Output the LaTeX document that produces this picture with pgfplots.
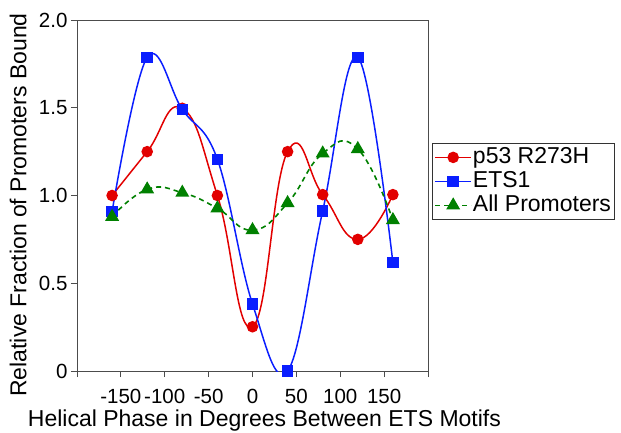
\documentclass[border=0pt]{standalone}
\usepackage{fontspec}
\setmainfont{Liberation Sans}
\usepackage{pgfplots}
\pgfplotsset{compat=1.18}
\definecolor{pred}{RGB}{226,0,0}
\definecolor{pblue}{RGB}{10,30,255}
\definecolor{pgreen}{RGB}{0,128,0}

\begin{document}
\begin{tikzpicture}
\begin{axis}[
  scale only axis, width=351pt, height=351pt,
  xmin=-200, xmax=200, ymin=0, ymax=2,
  xtick={-200,-150,...,200},
  xticklabels={{},-150,-100,-50,0,50,100,150,{}},
  ytick={0,0.5,1,1.5,2},
  yticklabels={0,0.5,1.0,1.5,2.0},
  tick align=outside, major tick length=6pt,
  xtick pos=bottom, ytick pos=left,
  axis line style={black!70, line width=0.8pt},
  tick style={black!70, line width=0.8pt},
  every tick label/.append style={font=\fontsize{20.5}{24}\selectfont},
  xticklabel style={yshift=-9pt},
  label style={font=\fontsize{23}{27}\selectfont},
  xlabel={Helical Phase in Degrees Between ETS Motifs},
  ylabel={Relative Fraction of Promoters Bound},
  xlabel style={at={(axis description cs:0.534,-0.1595)}, anchor=base},
  ylabel style={at={(axis description cs:-0.168,0.473)}, anchor=center},
  legend style={at={(axis description cs:1.0114,0.6496)}, anchor=north west,
    draw=black!80, line width=0.8pt, font=\fontsize{23}{27}\selectfont,
    inner xsep=2pt, inner ysep=2pt, row sep=0pt,
    nodes={inner sep=1pt, text height=17pt, text depth=5pt}},
  legend cell align=left,
  legend image code/.code={\draw[mark repeat=2, mark phase=2] plot coordinates {(0pt,0pt) (18pt,0pt) (36pt,0pt)};},
  /tikz/every odd column/.append style={minimum width=40pt},
]
\addplot[pred, line width=1.5pt, smooth, tension=0.8, mark=*, mark size=5pt]
  coordinates {(-160,1.0) (-120,1.25) (-80,1.497) (-40,1.0) (0,0.252) (40,1.25) (80,1.005) (120,0.75) (160,1.005)};
\addlegendentry{p53 R273H}
\addplot[pblue, line width=1.5pt, smooth, tension=0.65, mark=square*, mark size=5pt]
  coordinates {(-160,0.908) (-120,1.787) (-80,1.49) (-40,1.206) (0,0.382) (40,0.0) (80,0.912) (120,1.787) (160,0.617)};
\addlegendentry{ETS1}
\addplot[pgreen, line width=1.6pt, dash pattern=on 5pt off 4pt, smooth, tension=0.8, mark=triangle*, mark size=6.5pt, mark options={solid}]
  coordinates {(-160,0.879) (-120,1.035) (-80,1.016) (-40,0.927) (0,0.803) (40,0.957) (80,1.24) (120,1.265) (160,0.86)};
\addlegendentry{All Promoters}
\end{axis}
\pgfresetboundingbox
\useasboundingbox (-77pt,-61pt) rectangle (544pt,371pt);
\end{tikzpicture}
\end{document}
